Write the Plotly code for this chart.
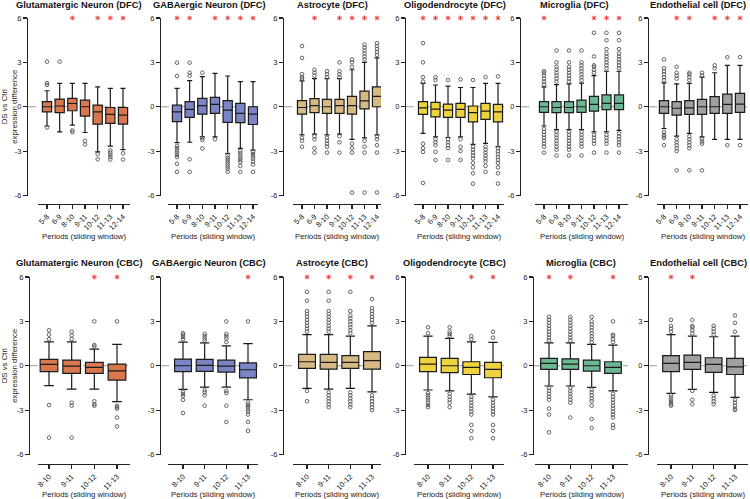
import plotly.graph_objects as go

periods_dfc = ["5-8", "6-9", "8-10", "9-11", "10-12", "11-13", "12-14"]
periods_cbc = ["8-10", "9-11", "10-12", "11-13"]
cell_types = ["Glutamatergic Neuron", "GABAergic Neuron", "Astrocyte",
              "Oligodendrocyte", "Microglia", "Endothelial cell"]
cell_colors = ["#D9774F", "#7B84C4", "#D7BA83", "#EDD33E", "#6CB893", "#A0A0A0"]

# ---------------- DFC (top row) ----------------
dfc_lower = [
    [-1.3, -1.7, -1.24, -1.74, -3.05, -2.66, -2.9],
    [-2.42, -2.4, -2.03, -2.03, -3.16, -2.82, -2.93],
    [-1.9, -1.85, -1.9, -1.85, -2.2, -2.1, -1.9],
    [-1.8, -2.03, -2.08, -2.03, -2.55, -2.48, -2.7],
    [-1.3, -1.55, -1.55, -1.55, -1.7, -1.7, -1.6],
    [-1.47, -1.98, -1.8, -2.03, -2.2, -2.2, -2.2],
]
dfc_q1 = [
    [-0.34, -0.4, -0.27, -0.63, -1.17, -1.13, -1.17],
    [-1.0, -0.72, -0.5, -0.45, -1.06, -1.08, -1.2],
    [-0.5, -0.4, -0.45, -0.45, -0.5, -0.15, 0.0],
    [-0.52, -0.68, -0.72, -0.72, -1.02, -0.86, -1.02],
    [-0.38, -0.4, -0.4, -0.38, -0.3, -0.2, -0.2],
    [-0.45, -0.56, -0.52, -0.52, -0.45, -0.45, -0.38],
]
dfc_median = [
    [0.0, 0.05, 0.22, 0.0, -0.34, -0.52, -0.56],
    [-0.34, -0.18, 0.07, 0.16, -0.23, -0.45, -0.5],
    [-0.05, 0.07, 0.0, 0.07, 0.07, 0.4, 0.7],
    [-0.07, -0.16, -0.23, -0.18, -0.4, -0.3, -0.34],
    [0.0, -0.05, -0.05, 0.0, 0.16, 0.23, 0.23],
    [0.0, -0.1, -0.07, 0.0, 0.0, 0.16, 0.18],
]
dfc_q3 = [
    [0.34, 0.52, 0.56, 0.45, 0.11, -0.05, -0.05],
    [0.11, 0.34, 0.56, 0.63, 0.41, 0.23, 0.0],
    [0.41, 0.55, 0.5, 0.5, 0.7, 1.05, 1.35],
    [0.34, 0.3, 0.18, 0.23, 0.05, 0.23, 0.16],
    [0.34, 0.34, 0.34, 0.45, 0.7, 0.8, 0.8],
    [0.41, 0.34, 0.41, 0.5, 0.68, 0.86, 0.9],
]
dfc_upper = [
    [1.08, 1.58, 1.58, 1.58, 1.35, 1.24, 1.24],
    [1.24, 1.76, 2.03, 2.26, 2.08, 1.7, 1.7],
    [1.75, 1.9, 1.9, 1.9, 2.5, 3.0, 3.3],
    [1.58, 1.47, 1.4, 1.3, 1.3, 1.58, 1.58],
    [1.35, 1.5, 1.55, 1.6, 2.1, 2.4, 2.4],
    [1.62, 1.55, 1.58, 2.0, 2.3, 2.8, 2.8],
]
dfc_outliers = [
    [[3.05, 1.6, 1.48, -1.4], [3.05], [-1.6, -1.72], [-2.3, -2.55],
     [-3.2, -3.55], [-2.95, -3.1, -3.25, -3.4, -3.57], [-3.15, -3.57]],
    [[2.98, 2.08, -2.65, -2.8, -2.95, -3.1, -3.25, -3.4, -3.85, -4.4],
     [2.98, 2.3, 2.1, -3.55, -4.4], [2.3, -2.1, -2.25, -2.82], [-2.2],
     [-3.3, -3.45, -3.6, -3.75, -3.9, -4.05, -4.2, -4.4],
     [-3.0, -3.15, -3.3, -3.45, -3.6, -3.75, -4.0, -4.4],
     [-3.05, -3.2, -3.35, -3.5, -3.7, -3.9, -4.4]],
    [[4.1, 3.3, 2.2, 2.0, 1.9, -2.1, -2.3, -2.7],
     [2.1, 2.3, 2.5, -2.0, -2.2, -2.8, -3.1],
     [2.0, 2.2, 2.4, -2.1, -2.3, -2.5, -2.7, -3.1],
     [2.0, 2.2, 2.4, 3.0, -2.0, -2.4, -3.1],
     [2.7, 3.0, 3.2, -2.5, -2.8, -3.1, -5.8],
     [3.2, 3.4, 3.6, 3.8, 4.0, 4.2, -2.3, -2.7, -3.1, -5.8],
     [3.5, 3.7, 3.9, 4.1, 4.3, -2.0, -2.2, -2.6, -3.1, -5.8]],
    [[4.3, 3.0, 2.0, 1.7, -2.5, -2.8, -3.05, -5.15],
     [2.0, 1.8, -2.2, -2.4, -2.6, -3.05, -3.6],
     [1.8, -2.2, -2.4, -2.6, -2.8, -3.6],
     [1.85, -2.2, -2.7, -3.0, -3.6],
     [1.8, -2.7, -2.9, -3.1, -3.3, -3.5, -3.8, -4.1, -4.5, -5.2],
     [2.0, -2.7, -2.9, -3.1, -3.3, -3.5, -3.7, -4.0, -4.4],
     [2.05, -2.8, -3.0, -3.2, -3.4, -3.6, -3.8, -4.1, -4.5, -5.2]],
    [[1.5, 1.7, 1.9, 2.1, 2.3, 2.4, -1.5, -1.7, -1.9, -2.1, -2.3, -2.5, -2.7, -3.1],
     [1.7, 1.9, 2.1, 2.3, 2.5, 2.7, 3.0, 3.8, -1.7, -1.9, -2.1, -2.3, -2.5, -2.7, -2.9, -3.3],
     [1.7, 1.9, 2.1, 2.3, 2.5, 2.7, 3.0, 3.8, -1.7, -1.9, -2.1, -2.3, -2.5, -2.7, -2.9, -3.3],
     [1.8, 2.0, 2.2, 2.4, 2.6, 2.8, 3.0, 3.8, -1.7, -1.9, -2.1, -2.3, -2.5, -2.7, -3.3],
     [2.3, 2.5, 2.7, 2.8, 3.4, 5.0, -1.9, -2.1, -2.3, -2.5, -3.1],
     [2.6, 2.8, 3.0, 3.2, 3.4, 3.6, 3.9, 4.5, 5.0, -1.9, -2.1, -2.3, -2.5, -3.1],
     [2.6, 2.8, 3.0, 3.2, 3.4, 3.6, 3.9, 4.5, 5.0, -1.8, -2.0, -2.2, -2.4, -2.6, -3.1]],
    [[1.8, 2.0, 2.2, 2.4, 2.6, 3.2, -1.7, -1.9, -2.0, -2.1, -2.6],
     [1.9, 2.1, 2.3, 2.7, -2.2, -2.4, -2.6, -2.8, -3.0, -4.3],
     [1.8, 2.0, 2.2, 2.3, -2.0, -2.2, -2.4, -2.6, -2.8, -4.3],
     [2.1, 2.3, -2.2, -2.35, -2.5, -4.3],
     [2.6, 2.8], [3.35, -2.6], [3.35, -2.6]],
]
dfc_sig = [
    [0, 0, 1, 0, 1, 1, 1],
    [1, 1, 0, 1, 1, 1, 1],
    [0, 1, 0, 1, 1, 1, 1],
    [1, 1, 1, 1, 1, 1, 1],
    [1, 0, 0, 0, 1, 1, 1],
    [0, 1, 1, 0, 1, 1, 1],
]

# ---------------- CBC (bottom row) ----------------
cbc_lower = [
    [-1.35, -1.58, -1.58, -2.43],
    [-1.6, -1.45, -1.45, -2.3],
    [-1.53, -1.58, -1.53, -1.76],
    [-1.64, -1.7, -1.92, -2.1],
    [-1.37, -1.37, -1.46, -1.7],
    [-1.87, -1.6, -1.8, -2.14],
]
cbc_q1 = [
    [-0.4, -0.52, -0.52, -0.97],
    [-0.4, -0.38, -0.43, -0.82],
    [-0.18, -0.23, -0.18, -0.23],
    [-0.4, -0.47, -0.59, -0.81],
    [-0.25, -0.25, -0.36, -0.52],
    [-0.4, -0.25, -0.45, -0.59],
]
cbc_median = [
    [0.09, -0.02, -0.11, -0.34],
    [0.0, 0.02, -0.02, -0.27],
    [0.27, 0.23, 0.23, 0.34],
    [0.11, 0.0, -0.11, -0.25],
    [0.16, 0.11, 0.0, -0.11],
    [0.16, 0.23, 0.09, -0.07],
]
cbc_q3 = [
    [0.43, 0.38, 0.23, 0.11],
    [0.45, 0.43, 0.38, 0.2],
    [0.77, 0.77, 0.68, 0.95],
    [0.56, 0.5, 0.27, 0.23],
    [0.5, 0.47, 0.38, 0.27],
    [0.68, 0.72, 0.54, 0.5],
]
cbc_upper = [
    [1.62, 1.62, 1.13, 1.44],
    [1.6, 1.55, 1.35, 1.5],
    [2.1, 2.1, 2.0, 2.7],
    [2.0, 1.85, 1.62, 1.58],
    [1.55, 1.55, 1.44, 1.4],
    [2.1, 2.0, 1.96, 2.0],
]
cbc_outliers = [
    [[1.8, 2.1, 2.4, -2.66, -4.86], [1.8, 2.05, 2.3, -2.5, -2.7, -4.86],
     [1.3, 1.4, 3.0, -2.4, -2.6, -2.7], [3.0, -2.7, -2.8, -2.9, -3.5, -4.1]],
    [[1.8, 1.95, 2.1, 2.2, -1.75, -1.9, -2.05, -2.3, -3.2],
     [1.7, 1.85, 2.0, 2.15, -1.65, -1.8, -2.0, -2.7],
     [1.6, 1.85, 2.0, 2.15, 3.0, -1.7, -1.85, -2.7, -3.8],
     [3.0, -2.5, -2.65, -2.8, -2.95, -3.1, -3.3, -3.8, -4.4]],
    [[2.3, 2.5, 2.7, 2.9, 3.1, 3.3, 3.5, 3.7, 4.4, 5.0, -1.7, -2.4],
     [2.3, 2.5, 2.7, 2.9, 3.1, 3.3, 3.5, 3.7, 4.4, 5.0, -1.8, -2.0, -2.2, -2.4, -2.6, -2.8],
     [2.2, 2.4, 2.6, 2.8, 3.0, 3.2, 3.4, 3.7, 5.0, -1.8, -2.0, -2.2, -2.4, -2.6, -2.8],
     [2.9, 3.1, 3.3, 3.5, 3.7, 3.9, 4.5, -2.0, -2.2, -2.4, -2.6, -2.8, -3.0]],
    [[2.2, 2.6, -1.85, -2.0, -2.15, -2.3, -2.5, -2.65, -2.8],
     [2.0, 2.15, 2.3, 2.6, -1.9, -2.1, -2.3, -2.5, -2.8],
     [1.8, 2.0, -2.1, -2.3, -2.5, -2.7, -2.9, -3.1, -3.3, -4.0, -4.4, -4.9],
     [1.9, 2.3, -2.3, -2.5, -2.7, -2.9, -3.1, -3.3, -4.0, -4.4, -4.9]],
    [[1.7, 1.9, 2.1, 2.3, 2.5, 2.7, 2.9, 3.1, 3.3, -1.5, -1.7, -1.9, -2.1, -2.3, -2.9, -3.3, -4.5],
     [1.7, 1.9, 2.1, 2.3, 2.5, 2.7, 2.9, 3.1, 3.3, -1.5, -1.7, -1.9, -2.1, -2.3, -2.5, -3.5],
     [1.6, 1.8, 2.0, 2.2, 2.4, 2.6, 2.8, 3.0, 3.3, -1.6, -1.8, -2.0, -2.2, -2.4, -2.7, -3.6, -4.2],
     [1.6, 1.8, 2.0, 2.1, 3.0, -1.9, -2.1, -2.3, -2.5, -2.7, -2.9, -3.1, -3.3, -3.5, -4.0, -4.2]],
    [[2.3, 2.5, 2.7, 3.1, -2.0, -2.15, -2.3, -2.45, -2.6, -2.7],
     [2.2, 2.4, 2.6, 2.7, 3.1, -1.7, -2.3, -2.6],
     [2.1, 2.3, 2.5, 2.7, -2.0, -2.2, -2.4, -2.6],
     [2.3, 2.9, 3.4, -2.3, -2.5, -2.7, -2.9, -3.0]],
]
cbc_sig = [
    [0, 0, 1, 1],
    [0, 0, 0, 1],
    [1, 1, 1, 1],
    [0, 0, 1, 1],
    [1, 1, 0, 1],
    [1, 1, 0, 0],
]

y_ticks = [-6, -3, 0, 3, 6]
y_tick_text = ["-6", "-3", "0", "3", "6"]
sig_level = 6

# ---------------- layout geometry (pixels) ----------------
W, H = 750, 499
# (y-axis x, x-axis start, first box centre, last box centre, x-axis end)
geom_top = [(27, 38, 47, 123, 130), (160, 168, 177, 253, 258), (283, 293, 302, 377, 381),
            (405, 414, 423, 498, 504), (520, 535, 544, 619, 628), (648, 657, 664, 740, 748)]
geom_bot = [(29, 38, 49, 117, 130), (160, 168, 183, 248, 258), (283, 293, 307, 372, 381),
            (405, 414, 428, 493, 504), (533, 535, 549, 613, 628), (648, 657, 671, 735, 748)]
row_y = {"top": (18, 195.5, 204, 5, 236), "bot": (277, 454.5, 464, 263, 494)}

FONT = "Liberation Sans, Arial, sans-serif"
fig = go.Figure()
layout = dict(width=W, height=H, margin=dict(l=0, r=0, t=0, b=0), template="none",
              paper_bgcolor="white", plot_bgcolor="white", showlegend=False,
              font=dict(family=FONT, color="#222"))
annotations = []
shapes = []

panels = []
for i in range(6):
    panels.append(("top", i, periods_dfc, dfc_lower[i], dfc_q1[i], dfc_median[i], dfc_q3[i],
                   dfc_upper[i], dfc_outliers[i], dfc_sig[i], "DFC", geom_top[i], 0.73))
for i in range(6):
    panels.append(("bot", i, periods_cbc, cbc_lower[i], cbc_q1[i], cbc_median[i], cbc_q3[i],
                   cbc_upper[i], cbc_outliers[i], cbc_sig[i], "CBC", geom_bot[i], 0.78))

for k, (row, i, cats, lo, q1, med, q3, up, outs, sig, region, g, bw) in enumerate(panels):
    n = k + 1
    xa = "x" if n == 1 else f"x{n}"
    ya = "y" if n == 1 else f"y{n}"
    yax_px, xs, c0, cN, xe = g
    ytop, ybot, xaxis_y, title_y, xtitle_y = row_y[row]
    s = (cN - c0) / (len(cats) - 1)
    xrange = [(xs - c0) / s, (xe - c0) / s]

    layout["xaxis" if n == 1 else f"xaxis{n}"] = dict(
        domain=[xs / W, xe / W], anchor="free", position=1 - xaxis_y / H,
        type="category", categoryorder="array", categoryarray=cats, range=xrange,
        showline=True, linecolor="#222", linewidth=1.3, ticks="outside", ticklen=4,
        tickwidth=1.1, tickcolor="#222", tickangle=-45,
        tickfont=dict(size=7.5, family=FONT, color="#222"),
        showgrid=False, zeroline=False, fixedrange=True)
    layout["yaxis" if n == 1 else f"yaxis{n}"] = dict(
        domain=[1 - ybot / H, 1 - ytop / H], anchor="free", position=yax_px / W,
        range=[-6, 6], tickmode="array", tickvals=y_ticks, ticktext=y_tick_text,
        showline=True, linecolor="#222", linewidth=1.3, ticks="outside", ticklen=4,
        tickwidth=1.1, tickcolor="#222", tickfont=dict(size=7.5, family=FONT, color="#222"),
        showgrid=False, zeroline=False, fixedrange=True)

    # dashed zero line
    shapes.append(dict(type="line", xref="paper", yref=ya, x0=yax_px / W, x1=xe / W,
                       y0=0, y1=0, line=dict(color="#9a9a9a", width=1, dash="dash"),
                       layer="below"))

    fig.add_trace(go.Box(
        x=cats, q1=q1, median=med, q3=q3, lowerfence=lo, upperfence=up,
        boxpoints=False, width=bw, whiskerwidth=0.55,
        fillcolor=cell_colors[i], line=dict(color="#1a1a1a", width=1.2),
        xaxis=xa, yaxis=ya, hoverinfo="skip"))

    ox, oy = [], []
    for c, vals in zip(cats, outs):
        for v in vals:
            ox.append(c)
            oy.append(v)
    fig.add_trace(go.Scatter(
        x=ox, y=oy, mode="markers", xaxis=xa, yaxis=ya, hoverinfo="skip",
        marker=dict(symbol="circle-open", size=3.6, color="#555",
                    line=dict(width=0.9, color="#555"))))

    sx = [c for c, f in zip(cats, sig) if f]
    fig.add_trace(go.Scatter(
        x=sx, y=[sig_level] * len(sx), mode="markers", xaxis=xa, yaxis=ya,
        cliponaxis=False, hoverinfo="skip",
        marker=dict(symbol="asterisk-open", size=4, color="#e8453c",
                    line=dict(width=1, color="#e8453c"))))

    annotations.append(dict(text=f"<b>{cell_types[i]} ({region})</b>", xref="paper",
                            yref="paper", x=(yax_px + xe) / 2 / W, y=1 - title_y / H,
                            xanchor="center", yanchor="middle", showarrow=False,
                            font=dict(size=9.3, family=FONT, color="#111")))
    annotations.append(dict(text="Periods (sliding window)", xref="paper", yref="paper",
                            x=(xs + xe) / 2 / W, y=1 - xtitle_y / H, xanchor="center",
                            yanchor="middle", showarrow=False,
                            font=dict(size=7.8, family=FONT, color="#222")))

for row in ("top", "bot"):
    ytop, ybot = row_y[row][0], row_y[row][1]
    annotations.append(dict(text="DS vs Ctrl<br>expression difference", xref="paper",
                            yref="paper", x=10 / W, y=1 - (ytop + ybot) / 2 / H,
                            xanchor="center", yanchor="middle", textangle=-90,
                            showarrow=False,
                            font=dict(size=7.8, family=FONT, color="#222")))

layout["annotations"] = annotations
layout["shapes"] = shapes
fig.update_layout(**layout)
fig.write_html("out.html", config={"displayModeBar": False, "staticPlot": True},
               post_script="document.body.style.margin='0';document.body.style.overflow='hidden';")
